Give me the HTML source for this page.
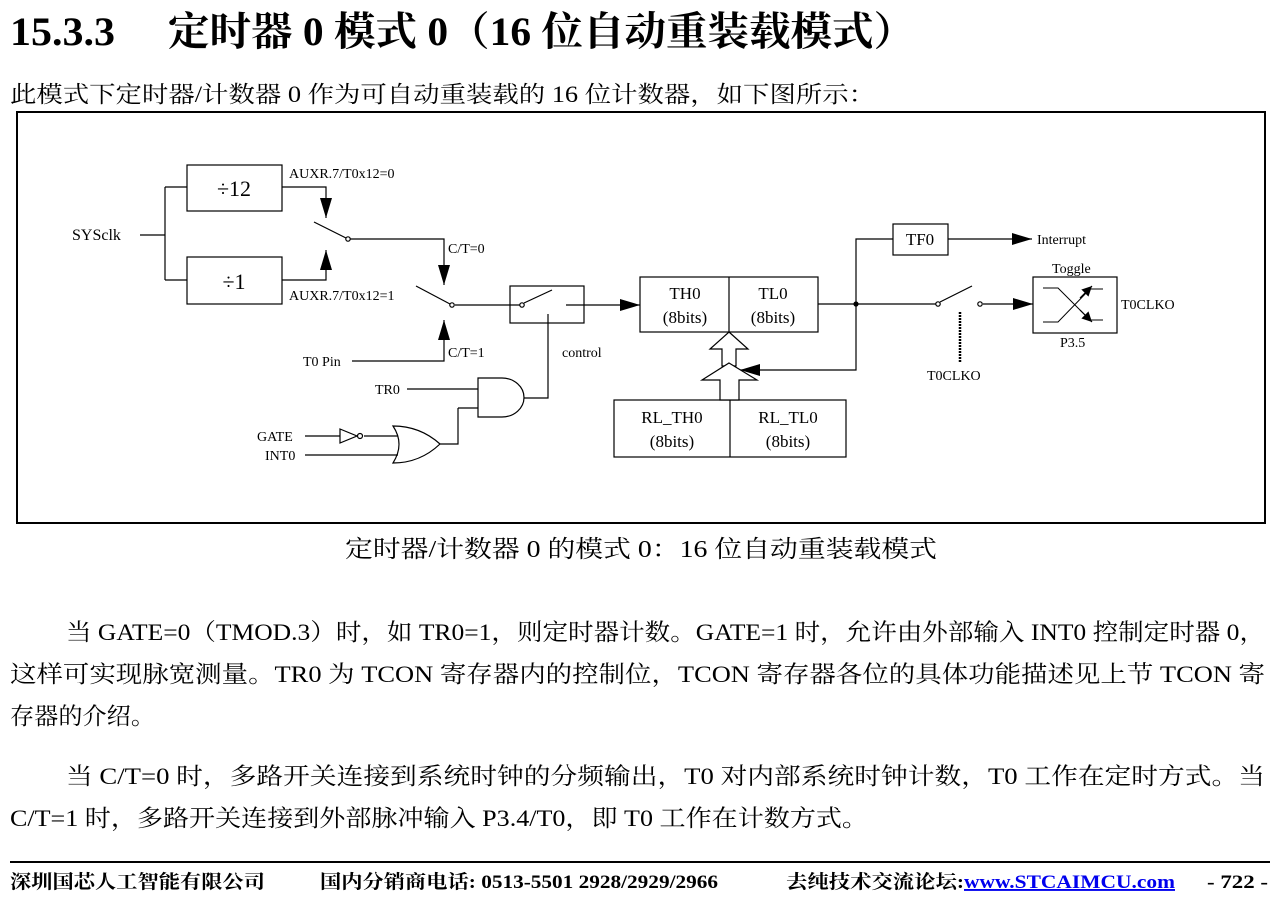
<!DOCTYPE html>
<html><head><meta charset="utf-8"><style>
body{margin:0;background:#fff;width:1277px;height:897px;overflow:hidden}
svg{display:block}
text{font-family:"Liberation Serif","Noto Serif CJK SC",serif;fill:#000}
.b{font-weight:bold}
</style></head><body>
<svg width="1277" height="897" viewBox="0 0 1277 897" xmlns="http://www.w3.org/2000/svg">
<defs><marker id="v" viewBox="0 0 20 12" markerWidth="20" markerHeight="12" refX="20" refY="6" orient="auto" markerUnits="userSpaceOnUse"><path d="M0,0 L20,6 L0,12 Z" fill="#000"/></marker>
<marker id="s" viewBox="0 0 10 10" markerWidth="10" markerHeight="10" refX="10" refY="5" orient="auto" markerUnits="userSpaceOnUse"><path d="M0,0 L10,5 L0,10 Z" fill="#000"/></marker></defs>
<text x="10" y="45" font-size="40" class="b" textLength="105" lengthAdjust="spacingAndGlyphs">15.3.3</text>
<text x="168" y="45" font-size="40" class="b" textLength="747" lengthAdjust="spacingAndGlyphs">定时器 0 模式 0（16 位自动重装载模式）</text>
<text x="10" y="102" font-size="23" textLength="865" lengthAdjust="spacingAndGlyphs">此模式下定时器/计数器 0 作为可自动重装载的 16 位计数器，如下图所示：</text>
<rect x="17" y="112" width="1248" height="411" fill="none" stroke="#000" stroke-width="2"/>
<g stroke="#000" stroke-width="1.2" fill="none">
<path d="M140,235 H165 M165,187 V280 M165,187 H187 M165,280 H187"/>
<rect x="187" y="165" width="95" height="46"/><rect x="187" y="257" width="95" height="47"/>
<path d="M282,187 H326 V218" marker-end="url(#v)"/>
<path d="M282,280 H326 V250" marker-end="url(#v)"/>
<path d="M314,222 L346,238"/><circle cx="348" cy="239" r="2.2" fill="#fff"/>
<path d="M350,239 H444 V285" marker-end="url(#v)"/>
<path d="M416,286 L450,304"/><circle cx="452" cy="305" r="2.2" fill="#fff"/>
<path d="M352,361 H444 V320" marker-end="url(#v)"/>
<path d="M455,305 H522"/><rect x="510" y="286" width="74" height="37"/>
<circle cx="522" cy="305" r="2.2" fill="#fff"/><path d="M524,303 L552,290"/>
<path d="M566,305 H640" marker-end="url(#v)"/>
<path d="M548,314 V398 H524"/>
<path d="M478,378 H502 A22,19.5 0 0 1 502,417 H478 Z"/>
<path d="M407,389 H478 M458,408 H478 M458,408 V444 H440"/>
<path d="M393,426 Q420,426 440,444 Q420,463 393,463 Q405,444 393,426 Z"/>
<path d="M305,436 H340 M305,455 H398 M364,436 H398"/>
<path d="M340,429 L357,436 L340,443 Z"/><circle cx="360" cy="436" r="2.5"/>
<rect x="640" y="277" width="178" height="55"/><path d="M729,277 V332"/>
<rect x="614" y="400" width="232" height="57"/><path d="M730,400 V457"/>
<path d="M818,304 H936"/><circle cx="856" cy="304" r="2" fill="#000"/>
<circle cx="938" cy="304" r="2.2" fill="#fff"/><path d="M940,302 L972,286"/>
<circle cx="980" cy="304" r="2.2" fill="#fff"/><path d="M983,304 H1033" marker-end="url(#v)"/>
<path d="M856,304 V239 H893"/><rect x="893" y="224" width="55" height="31"/>
<path d="M948,239 H1032" marker-end="url(#v)"/>
<path d="M856,304 V370 H740" marker-end="url(#v)"/>
<path d="M960,312 V362" stroke-width="2.5" stroke-dasharray="2,1"/>
<path d="M729,332 L748,349 L736,349 L736,366 L722,366 L722,349 L710,349 Z" fill="#fff"/>
<path d="M729,363 L757,380 L739,380 L739,400 L720,400 L720,380 L702,380 Z" fill="#fff"/>
<rect x="1033" y="277" width="84" height="56"/>
<path d="M1043,288 H1058 L1090,320 H1103 M1043,322 H1058 L1090,289 H1103" stroke-width="1"/>
<path d="M1080,310 L1092,322" marker-end="url(#s)"/><path d="M1080,298 L1092,286" marker-end="url(#s)"/>
</g>
<g font-size="16">
<text x="72" y="240">SYSclk</text>
<text x="234" y="196" font-size="22" text-anchor="middle">÷12</text>
<text x="234" y="289" font-size="22" text-anchor="middle">÷1</text>
<text x="289" y="178" font-size="14">AUXR.7/T0x12=0</text>
<text x="289" y="300" font-size="14">AUXR.7/T0x12=1</text>
<text x="448" y="253" font-size="14">C/T=0</text>
<text x="448" y="357" font-size="14">C/T=1</text>
<text x="303" y="366" font-size="14">T0 Pin</text>
<text x="562" y="357" font-size="14">control</text>
<text x="375" y="394" font-size="14">TR0</text>
<text x="257" y="441" font-size="14">GATE</text>
<text x="265" y="460" font-size="14">INT0</text>
<text x="685" y="299" text-anchor="middle" font-size="17">TH0</text>
<text x="685" y="323" text-anchor="middle" font-size="17">(8bits)</text>
<text x="773" y="299" text-anchor="middle" font-size="17">TL0</text>
<text x="773" y="323" text-anchor="middle" font-size="17">(8bits)</text>
<text x="672" y="423" text-anchor="middle" font-size="17">RL_TH0</text>
<text x="672" y="447" text-anchor="middle" font-size="17">(8bits)</text>
<text x="788" y="423" text-anchor="middle" font-size="17">RL_TL0</text>
<text x="788" y="447" text-anchor="middle" font-size="17">(8bits)</text>
<text x="920" y="245" text-anchor="middle" font-size="17">TF0</text>
<text x="1037" y="244" font-size="14">Interrupt</text>
<text x="1052" y="273" font-size="14">Toggle</text>
<text x="1121" y="309" font-size="14">T0CLKO</text>
<text x="1060" y="347" font-size="14">P3.5</text>
<text x="927" y="380" font-size="14">T0CLKO</text>
</g>
<text x="345" y="557" font-size="24" textLength="592" lengthAdjust="spacingAndGlyphs">定时器/计数器 0 的模式 0：16 位自动重装载模式</text>
<g font-size="23.5">
<text x="66" y="640" textLength="1199" lengthAdjust="spacingAndGlyphs">当 GATE=0（TMOD.3）时，如 TR0=1，则定时器计数。GATE=1 时，允许由外部输入 INT0 控制定时器 0，</text>
<text x="10" y="682" textLength="1255" lengthAdjust="spacingAndGlyphs">这样可实现脉宽测量。TR0 为 TCON 寄存器内的控制位，TCON 寄存器各位的具体功能描述见上节 TCON 寄</text>
<text x="10" y="724" textLength="145" lengthAdjust="spacingAndGlyphs">存器的介绍。</text>
<text x="66" y="784" textLength="1199" lengthAdjust="spacingAndGlyphs">当 C/T=0 时，多路开关连接到系统时钟的分频输出，T0 对内部系统时钟计数，T0 工作在定时方式。当</text>
<text x="10" y="826" textLength="858" lengthAdjust="spacingAndGlyphs">C/T=1 时，多路开关连接到外部脉冲输入 P3.4/T0，即 T0 工作在计数方式。</text>
</g>
<path d="M10,862 H1270" stroke="#000" stroke-width="2"/>
<g font-size="19" class="b">
<text x="10" y="888" class="b" textLength="255" lengthAdjust="spacingAndGlyphs">深圳国芯人工智能有限公司</text>
<text x="320" y="888" class="b" textLength="398" lengthAdjust="spacingAndGlyphs">国内分销商电话: 0513-5501 2928/2929/2966</text>
<text x="786" y="888" class="b" textLength="178" lengthAdjust="spacingAndGlyphs">去纯技术交流论坛:</text>
<text x="964" y="888" class="b" style="fill:#0000ee" text-decoration="underline" textLength="211" lengthAdjust="spacingAndGlyphs">www.STCAIMCU.com</text>
<text x="1207" y="888" textLength="61" lengthAdjust="spacingAndGlyphs">- 722 -</text>
</g>
</svg>
</body></html>
